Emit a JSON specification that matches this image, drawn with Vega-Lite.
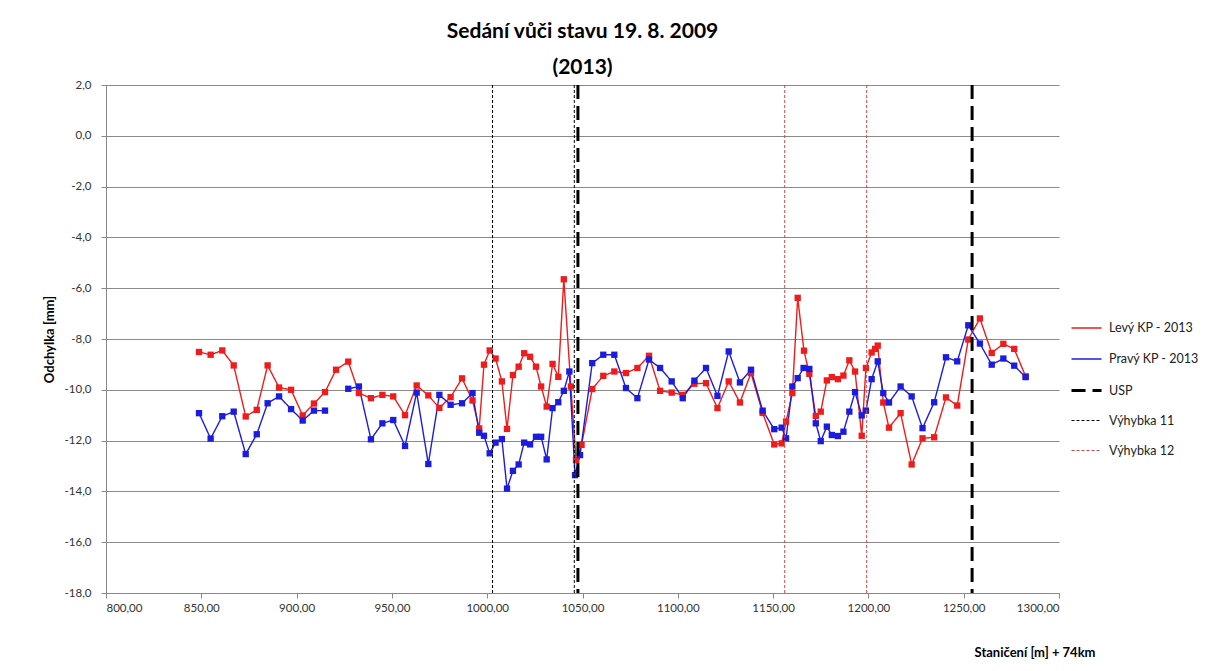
{
  "$schema": "https://vega.github.io/schema/vega-lite/v6.json",
  "width": 953,
  "height": 508,
  "autosize": {"type": "none"},
  "padding": {"left": 106, "top": 85, "right": 146, "bottom": 78},
  "background": "white",
  "title": {
    "text": ["Sedání vůči stavu 19. 8. 2009", "(2013)"],
    "font": "Lato",
    "fontSize": 21,
    "fontWeight": "bold",
    "color": "black",
    "lineHeight": 36,
    "anchor": "middle",
    "offset": 1
  },
  "datasets": {
    "series": [
      {"s": "Levý KP - 2013", "x": 848.8, "y": -8.51},
      {"s": "Levý KP - 2013", "x": 854.9, "y": -8.62},
      {"s": "Levý KP - 2013", "x": 861.0, "y": -8.45},
      {"s": "Levý KP - 2013", "x": 867.0, "y": -9.04},
      {"s": "Levý KP - 2013", "x": 873.3, "y": -11.05},
      {"s": "Levý KP - 2013", "x": 879.1, "y": -10.79},
      {"s": "Levý KP - 2013", "x": 884.8, "y": -9.04},
      {"s": "Levý KP - 2013", "x": 890.8, "y": -9.91},
      {"s": "Levý KP - 2013", "x": 897.1, "y": -10.0},
      {"s": "Levý KP - 2013", "x": 903.2, "y": -11.01},
      {"s": "Levý KP - 2013", "x": 909.1, "y": -10.54},
      {"s": "Levý KP - 2013", "x": 914.9, "y": -10.09},
      {"s": "Levý KP - 2013", "x": 920.7, "y": -9.21},
      {"s": "Levý KP - 2013", "x": 927.1, "y": -8.89},
      {"s": "Levý KP - 2013", "x": 932.7, "y": -10.13},
      {"s": "Levý KP - 2013", "x": 939.0, "y": -10.33},
      {"s": "Levý KP - 2013", "x": 945.0, "y": -10.2},
      {"s": "Levý KP - 2013", "x": 950.7, "y": -10.26},
      {"s": "Levý KP - 2013", "x": 956.9, "y": -11.0},
      {"s": "Levý KP - 2013", "x": 963.0, "y": -9.83},
      {"s": "Levý KP - 2013", "x": 969.1, "y": -10.22},
      {"s": "Levý KP - 2013", "x": 974.9, "y": -10.71},
      {"s": "Levý KP - 2013", "x": 980.8, "y": -10.29},
      {"s": "Levý KP - 2013", "x": 986.8, "y": -9.55},
      {"s": "Levý KP - 2013", "x": 992.3, "y": -10.42},
      {"s": "Levý KP - 2013", "x": 995.8, "y": -11.52},
      {"s": "Levý KP - 2013", "x": 998.3, "y": -9.01},
      {"s": "Levý KP - 2013", "x": 1001.3, "y": -8.45},
      {"s": "Levý KP - 2013", "x": 1004.4, "y": -8.77},
      {"s": "Levý KP - 2013", "x": 1007.7, "y": -9.67},
      {"s": "Levý KP - 2013", "x": 1010.4, "y": -11.54},
      {"s": "Levý KP - 2013", "x": 1013.5, "y": -9.42},
      {"s": "Levý KP - 2013", "x": 1016.5, "y": -9.09},
      {"s": "Levý KP - 2013", "x": 1019.4, "y": -8.56},
      {"s": "Levý KP - 2013", "x": 1022.5, "y": -8.7},
      {"s": "Levý KP - 2013", "x": 1025.6, "y": -9.09},
      {"s": "Levý KP - 2013", "x": 1028.3, "y": -9.87},
      {"s": "Levý KP - 2013", "x": 1031.2, "y": -10.66},
      {"s": "Levý KP - 2013", "x": 1034.3, "y": -8.98},
      {"s": "Levý KP - 2013", "x": 1037.3, "y": -9.49},
      {"s": "Levý KP - 2013", "x": 1040.2, "y": -5.65},
      {"s": "Levý KP - 2013", "x": 1043.9, "y": -9.87},
      {"s": "Levý KP - 2013", "x": 1046.6, "y": -12.77},
      {"s": "Levý KP - 2013", "x": 1049.5, "y": -12.17},
      {"s": "Levý KP - 2013", "x": 1055.1, "y": -9.97},
      {"s": "Levý KP - 2013", "x": 1060.9, "y": -9.45},
      {"s": "Levý KP - 2013", "x": 1066.7, "y": -9.28},
      {"s": "Levý KP - 2013", "x": 1072.8, "y": -9.34},
      {"s": "Levý KP - 2013", "x": 1078.8, "y": -9.14},
      {"s": "Levý KP - 2013", "x": 1084.9, "y": -8.66},
      {"s": "Levý KP - 2013", "x": 1090.7, "y": -10.04},
      {"s": "Levý KP - 2013", "x": 1096.8, "y": -10.11},
      {"s": "Levý KP - 2013", "x": 1102.6, "y": -10.2},
      {"s": "Levý KP - 2013", "x": 1108.7, "y": -9.76},
      {"s": "Levý KP - 2013", "x": 1114.8, "y": -9.74},
      {"s": "Levý KP - 2013", "x": 1120.8, "y": -10.72},
      {"s": "Levý KP - 2013", "x": 1126.7, "y": -9.67},
      {"s": "Levý KP - 2013", "x": 1132.6, "y": -10.5},
      {"s": "Levý KP - 2013", "x": 1138.4, "y": -9.34},
      {"s": "Levý KP - 2013", "x": 1144.5, "y": -10.91},
      {"s": "Levý KP - 2013", "x": 1150.6, "y": -12.15},
      {"s": "Levý KP - 2013", "x": 1154.5, "y": -12.11},
      {"s": "Levý KP - 2013", "x": 1156.8, "y": -11.25},
      {"s": "Levý KP - 2013", "x": 1160.1, "y": -10.13},
      {"s": "Levý KP - 2013", "x": 1162.9, "y": -6.38},
      {"s": "Levý KP - 2013", "x": 1166.2, "y": -8.46},
      {"s": "Levý KP - 2013", "x": 1169.0, "y": -9.37},
      {"s": "Levý KP - 2013", "x": 1172.4, "y": -11.03},
      {"s": "Levý KP - 2013", "x": 1175.0, "y": -10.86},
      {"s": "Levý KP - 2013", "x": 1178.2, "y": -9.63},
      {"s": "Levý KP - 2013", "x": 1180.8, "y": -9.5},
      {"s": "Levý KP - 2013", "x": 1184.0, "y": -9.58},
      {"s": "Levý KP - 2013", "x": 1186.9, "y": -9.44},
      {"s": "Levý KP - 2013", "x": 1190.0, "y": -8.84},
      {"s": "Levý KP - 2013", "x": 1193.0, "y": -9.28},
      {"s": "Levý KP - 2013", "x": 1196.5, "y": -11.81},
      {"s": "Levý KP - 2013", "x": 1198.7, "y": -9.14},
      {"s": "Levý KP - 2013", "x": 1201.7, "y": -8.53},
      {"s": "Levý KP - 2013", "x": 1203.5, "y": -8.39},
      {"s": "Levý KP - 2013", "x": 1204.9, "y": -8.26},
      {"s": "Levý KP - 2013", "x": 1207.8, "y": -10.5},
      {"s": "Levý KP - 2013", "x": 1210.8, "y": -11.49},
      {"s": "Levý KP - 2013", "x": 1216.9, "y": -10.92},
      {"s": "Levý KP - 2013", "x": 1222.7, "y": -12.94},
      {"s": "Levý KP - 2013", "x": 1228.4, "y": -11.91},
      {"s": "Levý KP - 2013", "x": 1234.5, "y": -11.87},
      {"s": "Levý KP - 2013", "x": 1240.7, "y": -10.3},
      {"s": "Levý KP - 2013", "x": 1246.6, "y": -10.62},
      {"s": "Levý KP - 2013", "x": 1252.4, "y": -8.02},
      {"s": "Levý KP - 2013", "x": 1258.5, "y": -7.19},
      {"s": "Levý KP - 2013", "x": 1264.7, "y": -8.55},
      {"s": "Levý KP - 2013", "x": 1270.8, "y": -8.19},
      {"s": "Levý KP - 2013", "x": 1276.5, "y": -8.39},
      {"s": "Levý KP - 2013", "x": 1282.5, "y": -9.47},
      {"s": "Pravý KP - 2013", "x": 848.8, "y": -10.92},
      {"s": "Pravý KP - 2013", "x": 854.9, "y": -11.92},
      {"s": "Pravý KP - 2013", "x": 861.0, "y": -11.04},
      {"s": "Pravý KP - 2013", "x": 867.0, "y": -10.86},
      {"s": "Pravý KP - 2013", "x": 873.3, "y": -12.53},
      {"s": "Pravý KP - 2013", "x": 879.1, "y": -11.75},
      {"s": "Pravý KP - 2013", "x": 884.8, "y": -10.53},
      {"s": "Pravý KP - 2013", "x": 890.8, "y": -10.26},
      {"s": "Pravý KP - 2013", "x": 897.1, "y": -10.76},
      {"s": "Pravý KP - 2013", "x": 903.2, "y": -11.21},
      {"s": "Pravý KP - 2013", "x": 909.1, "y": -10.82},
      {"s": "Pravý KP - 2013", "x": 914.9, "y": -10.82},
      {"s": "Pravý KP - 2013", "x": 920.7, "y": null},
      {"s": "Pravý KP - 2013", "x": 927.1, "y": -9.96},
      {"s": "Pravý KP - 2013", "x": 932.7, "y": -9.87},
      {"s": "Pravý KP - 2013", "x": 939.0, "y": -11.95},
      {"s": "Pravý KP - 2013", "x": 945.0, "y": -11.32},
      {"s": "Pravý KP - 2013", "x": 950.7, "y": -11.19},
      {"s": "Pravý KP - 2013", "x": 956.9, "y": -12.21},
      {"s": "Pravý KP - 2013", "x": 963.0, "y": -10.11},
      {"s": "Pravý KP - 2013", "x": 969.1, "y": -12.92},
      {"s": "Pravý KP - 2013", "x": 974.9, "y": -10.2},
      {"s": "Pravý KP - 2013", "x": 980.8, "y": -10.59},
      {"s": "Pravý KP - 2013", "x": 986.8, "y": -10.53},
      {"s": "Pravý KP - 2013", "x": 992.3, "y": -10.13},
      {"s": "Pravý KP - 2013", "x": 995.8, "y": -11.69},
      {"s": "Pravý KP - 2013", "x": 998.3, "y": -11.81},
      {"s": "Pravý KP - 2013", "x": 1001.3, "y": -12.5},
      {"s": "Pravý KP - 2013", "x": 1004.4, "y": -12.08},
      {"s": "Pravý KP - 2013", "x": 1007.7, "y": -11.94},
      {"s": "Pravý KP - 2013", "x": 1010.4, "y": -13.89},
      {"s": "Pravý KP - 2013", "x": 1013.5, "y": -13.19},
      {"s": "Pravý KP - 2013", "x": 1016.5, "y": -12.94},
      {"s": "Pravý KP - 2013", "x": 1019.4, "y": -12.08},
      {"s": "Pravý KP - 2013", "x": 1022.5, "y": -12.15},
      {"s": "Pravý KP - 2013", "x": 1025.6, "y": -11.85},
      {"s": "Pravý KP - 2013", "x": 1028.3, "y": -11.85},
      {"s": "Pravý KP - 2013", "x": 1031.2, "y": -12.74},
      {"s": "Pravý KP - 2013", "x": 1034.3, "y": -10.72},
      {"s": "Pravý KP - 2013", "x": 1037.3, "y": -10.49},
      {"s": "Pravý KP - 2013", "x": 1040.2, "y": -10.04},
      {"s": "Pravý KP - 2013", "x": 1043.1, "y": -9.28},
      {"s": "Pravý KP - 2013", "x": 1046.1, "y": -13.36},
      {"s": "Pravý KP - 2013", "x": 1048.7, "y": -12.57},
      {"s": "Pravý KP - 2013", "x": 1055.1, "y": -8.95},
      {"s": "Pravý KP - 2013", "x": 1060.9, "y": -8.62},
      {"s": "Pravý KP - 2013", "x": 1066.7, "y": -8.62},
      {"s": "Pravý KP - 2013", "x": 1072.8, "y": -9.93},
      {"s": "Pravý KP - 2013", "x": 1078.8, "y": -10.33},
      {"s": "Pravý KP - 2013", "x": 1084.9, "y": -8.81},
      {"s": "Pravý KP - 2013", "x": 1090.7, "y": -9.14},
      {"s": "Pravý KP - 2013", "x": 1096.8, "y": -9.67},
      {"s": "Pravý KP - 2013", "x": 1102.6, "y": -10.33},
      {"s": "Pravý KP - 2013", "x": 1108.7, "y": -9.64},
      {"s": "Pravý KP - 2013", "x": 1114.8, "y": -9.14},
      {"s": "Pravý KP - 2013", "x": 1120.8, "y": -10.24},
      {"s": "Pravý KP - 2013", "x": 1126.7, "y": -8.49},
      {"s": "Pravý KP - 2013", "x": 1132.6, "y": -9.71},
      {"s": "Pravý KP - 2013", "x": 1138.4, "y": -9.21},
      {"s": "Pravý KP - 2013", "x": 1144.5, "y": -10.82},
      {"s": "Pravý KP - 2013", "x": 1150.6, "y": -11.55},
      {"s": "Pravý KP - 2013", "x": 1154.5, "y": -11.49},
      {"s": "Pravý KP - 2013", "x": 1156.8, "y": -11.91},
      {"s": "Pravý KP - 2013", "x": 1160.1, "y": -9.87},
      {"s": "Pravý KP - 2013", "x": 1162.9, "y": -9.54},
      {"s": "Pravý KP - 2013", "x": 1166.0, "y": -9.14},
      {"s": "Pravý KP - 2013", "x": 1169.0, "y": -9.18},
      {"s": "Pravý KP - 2013", "x": 1172.4, "y": -11.32},
      {"s": "Pravý KP - 2013", "x": 1175.0, "y": -12.02},
      {"s": "Pravý KP - 2013", "x": 1178.2, "y": -11.45},
      {"s": "Pravý KP - 2013", "x": 1180.8, "y": -11.78},
      {"s": "Pravý KP - 2013", "x": 1184.0, "y": -11.82},
      {"s": "Pravý KP - 2013", "x": 1186.9, "y": -11.65},
      {"s": "Pravý KP - 2013", "x": 1190.0, "y": -10.86},
      {"s": "Pravý KP - 2013", "x": 1193.0, "y": -10.09},
      {"s": "Pravý KP - 2013", "x": 1196.5, "y": -11.01},
      {"s": "Pravý KP - 2013", "x": 1198.7, "y": -10.82},
      {"s": "Pravý KP - 2013", "x": 1201.7, "y": -9.58},
      {"s": "Pravý KP - 2013", "x": 1204.9, "y": -8.88},
      {"s": "Pravý KP - 2013", "x": 1207.8, "y": -10.13},
      {"s": "Pravý KP - 2013", "x": 1210.8, "y": -10.5},
      {"s": "Pravý KP - 2013", "x": 1216.9, "y": -9.87},
      {"s": "Pravý KP - 2013", "x": 1222.7, "y": -10.26},
      {"s": "Pravý KP - 2013", "x": 1228.4, "y": -11.51},
      {"s": "Pravý KP - 2013", "x": 1234.5, "y": -10.49},
      {"s": "Pravý KP - 2013", "x": 1240.7, "y": -8.72},
      {"s": "Pravý KP - 2013", "x": 1246.6, "y": -8.88},
      {"s": "Pravý KP - 2013", "x": 1252.4, "y": -7.46},
      {"s": "Pravý KP - 2013", "x": 1258.5, "y": -8.18},
      {"s": "Pravý KP - 2013", "x": 1264.7, "y": -9.01},
      {"s": "Pravý KP - 2013", "x": 1270.8, "y": -8.77},
      {"s": "Pravý KP - 2013", "x": 1276.5, "y": -9.05},
      {"s": "Pravý KP - 2013", "x": 1282.5, "y": -9.5}
    ],
    "vlines": [
      {"s": "Výhybka 11", "x": 1002.8},
      {"s": "Výhybka 11", "x": 1045.7},
      {"s": "USP", "x": 1047.6},
      {"s": "USP", "x": 1254.4},
      {"s": "Výhybka 12", "x": 1156.1},
      {"s": "Výhybka 12", "x": 1199.1}
    ]
  },
  "layer": [
    {
      "data": {"name": "series"},
      "mark": {
        "type": "line",
        "invalid": "break-paths-filter-domains",
        "point": {"shape": "square", "size": 40, "filled": true, "opacity": 1},
        "interpolate": "linear"
      },
      "encoding": {
        "x": {"field": "x", "type": "quantitative"},
        "y": {
          "field": "y",
          "type": "quantitative",
          "scale": {"domain": [-18, 2], "nice": false, "zero": false},
          "axis": {
            "values": [2, 0, -2, -4, -6, -8, -10, -12, -14, -16, -18],
            "format": ".1f",
            "grid": true,
            "title": "Odchylka [mm]",
            "titlePadding": 8
          }
        },
        "color": {"field": "s", "type": "nominal"},
        "strokeDash": {"field": "s", "type": "nominal"},
        "strokeWidth": {"field": "s", "type": "ordinal"}
      }
    },
    {
      "data": {"name": "vlines"},
      "mark": {"type": "rule"},
      "encoding": {
        "x": {"field": "x", "type": "quantitative"},
        "color": {"field": "s", "type": "nominal"},
        "strokeDash": {"field": "s", "type": "nominal"},
        "strokeWidth": {"field": "s", "type": "ordinal"}
      }
    }
  ],
  "encoding": {
    "x": {
      "field": "x",
      "type": "quantitative",
      "scale": {"domain": [800, 1300], "nice": false, "zero": false},
      "axis": {
        "values": [800, 850, 900, 950, 1000, 1050, 1100, 1150, 1200, 1250, 1300],
        "format": ".2f",
        "grid": false,
        "title": "Staničení [m] + 74km",
        "titleX": 989,
        "titleY": 63,
        "titleAlign": "right",
        "titleAnchor": null,
        "titleBaseline": "alphabetic"
      }
    },
    "color": {
      "field": "s",
      "type": "nominal",
      "scale": {
        "domain": ["Levý KP - 2013", "Pravý KP - 2013", "USP", "Výhybka 11", "Výhybka 12"],
        "range": ["#ee1c1c", "#1c1ce0", "#000000", "#000000", "#c84a48"]
      },
      "legend": {
        "title": null,
        "orient": "none",
        "legendX": 964,
        "legendY": 227,
        "symbolType": "stroke",
        "symbolSize": 900,
        "rowPadding": 8,
        "labelOffset": 6,
        "labelFont": "Lato",
        "labelFontSize": 12.5,
        "labelColor": "#222222",
        "labelLimit": 200,
        "padding": 0
      }
    },
    "strokeDash": {
      "field": "s",
      "type": "nominal",
      "scale": {
        "domain": ["Levý KP - 2013", "Pravý KP - 2013", "USP", "Výhybka 11", "Výhybka 12"],
        "range": [[1, 0], [1, 0], [14, 7], [3, 2], [3, 2]]
      },
      "legend": {
        "title": null,
        "orient": "none",
        "legendX": 964,
        "legendY": 227,
        "symbolType": "stroke",
        "symbolSize": 900,
        "rowPadding": 8,
        "labelOffset": 6,
        "labelFont": "Lato",
        "labelFontSize": 12.5,
        "labelColor": "#222222",
        "labelLimit": 200,
        "padding": 0
      }
    },
    "strokeWidth": {
      "field": "s",
      "type": "ordinal",
      "scale": {
        "type": "ordinal",
        "domain": ["Levý KP - 2013", "Pravý KP - 2013", "USP", "Výhybka 11", "Výhybka 12"],
        "range": [1.4, 1.4, 3, 1, 1]
      },
      "legend": {
        "title": null,
        "orient": "none",
        "legendX": 964,
        "legendY": 227,
        "symbolType": "stroke",
        "symbolSize": 900,
        "rowPadding": 8,
        "labelOffset": 6,
        "labelFont": "Lato",
        "labelFontSize": 12.5,
        "labelColor": "#222222",
        "labelLimit": 200,
        "padding": 0
      }
    }
  },
  "config": {
    "locale": {
      "number": {"decimal": ",", "thousands": " ", "grouping": [3], "currency": ["", " Kč"], "minus": "-"}
    },
    "view": {"stroke": null},
    "axis": {
      "labelFont": "Lato",
      "labelFontSize": 11.5,
      "labelColor": "#333333",
      "titleFont": "Lato",
      "titleFontSize": 13,
      "titleFontWeight": "bold",
      "titleColor": "black",
      "domainColor": "#888888",
      "tickColor": "#888888",
      "tickSize": 5,
      "gridColor": "#8a8a8a",
      "gridWidth": 1,
      "gridOpacity": 1,
      "labelPadding": 4
    },
    "axisY": {"labelPadding": 10}
  }
}
